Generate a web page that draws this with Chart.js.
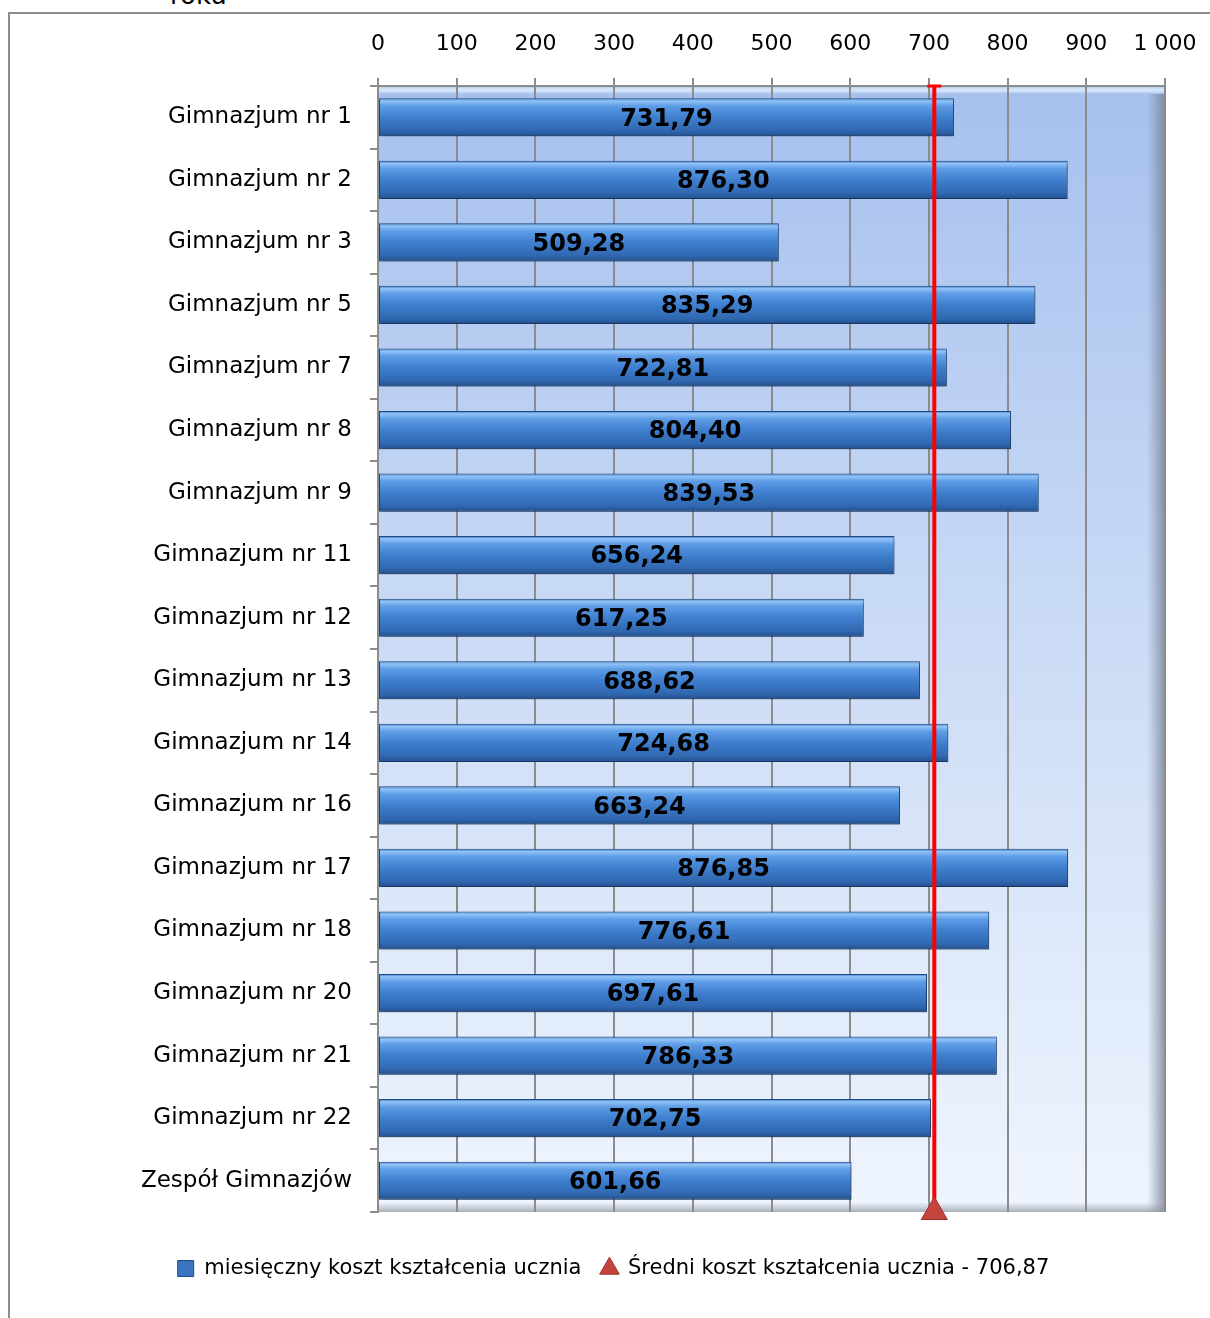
<!DOCTYPE html>
<html><head><meta charset="utf-8">
<script src="https://cdn.jsdelivr.net/npm/chart.js@4.4.1/dist/chart.umd.min.js"></script>
<style>
html,body{margin:0;padding:0;background:#fff;overflow:hidden;width:1210px;height:1318px;}
#frame{position:absolute;left:8px;top:12px;width:1400px;height:1500px;border:2px solid #8c8c8c;box-sizing:border-box;}
#title{position:absolute;left:170px;top:-20px;font:26px "DejaVu Sans";color:#000;line-height:30px;}
#wrap{position:absolute;left:0;top:0;width:1210px;height:1318px;}
</style></head><body>
<div id="frame"></div><div id="title">roku</div>
<div id="wrap"><canvas id="c"></canvas></div>
<script>
const categories = ['Gimnazjum nr 1','Gimnazjum nr 2','Gimnazjum nr 3','Gimnazjum nr 5','Gimnazjum nr 7','Gimnazjum nr 8','Gimnazjum nr 9','Gimnazjum nr 11','Gimnazjum nr 12','Gimnazjum nr 13','Gimnazjum nr 14','Gimnazjum nr 16','Gimnazjum nr 17','Gimnazjum nr 18','Gimnazjum nr 20','Gimnazjum nr 21','Gimnazjum nr 22','Zespół Gimnazjów'];
const costs = [731.79,876.30,509.28,835.29,722.81,804.40,839.53,656.24,617.25,688.62,724.68,663.24,876.85,776.61,697.61,786.33,702.75,601.66];
const averageCost = 706.87;
const xTickValues = [0,100,200,300,400,500,600,700,800,900,1000];
const xTickLabels = ['0','100','200','300','400','500','600','700','800','900','1 000'];
const seriesNames = ['miesięczny koszt kształcenia ucznia','Średni koszt kształcenia ucznia - 706,87'];

const FONT = '"DejaVu Sans", sans-serif';
const fmt = v => v.toFixed(2).replace('.', ',');

const bgPlugin = {
  id: 'bg',
  beforeDraw(chart) {
    const {ctx, chartArea: a} = chart;
    ctx.save();
    const g = ctx.createLinearGradient(0, a.top, 0, a.bottom);
    g.addColorStop(0, '#a6c0ee');
    g.addColorStop(0.5, '#ccdcf6');
    g.addColorStop(1, '#eff5fe');
    ctx.fillStyle = g;
    ctx.fillRect(a.left, a.top, a.right - a.left, a.bottom - a.top);
    const gt = ctx.createLinearGradient(0, a.top, 0, a.top + 8);
    gt.addColorStop(0, 'rgba(255,255,255,0.0)');
    gt.addColorStop(0.5, 'rgba(230,245,255,0.8)');
    gt.addColorStop(1, 'rgba(255,255,255,0)');
    ctx.fillStyle = gt;
    ctx.fillRect(a.left, a.top, a.right - a.left, 8);
    const gr = ctx.createLinearGradient(a.right - 18, 0, a.right, 0);
    gr.addColorStop(0, 'rgba(120,130,150,0)');
    gr.addColorStop(1, 'rgba(110,120,140,0.75)');
    ctx.fillStyle = gr;
    ctx.fillRect(a.right - 18, a.top + 8, 18, a.bottom - a.top - 8);
    const gb = ctx.createLinearGradient(0, a.bottom - 10, 0, a.bottom);
    gb.addColorStop(0, 'rgba(150,155,165,0)');
    gb.addColorStop(1, 'rgba(140,145,155,0.7)');
    ctx.fillStyle = gb;
    ctx.fillRect(a.left, a.bottom - 10, a.right - a.left, 10);
    ctx.restore();
  }
};

const labelPlugin = {
  id: 'barLabels',
  beforeDatasetDraw(chart, args) {
    if (args.index !== 0) return;
    const ctx = chart.ctx;
    ctx.save();
    ctx.shadowColor = 'rgba(0,0,0,0.35)';
    ctx.shadowOffsetY = 3;
    ctx.shadowOffsetX = 1;
    ctx.shadowBlur = 4;
  },
  afterDatasetDraw(chart, args) {
    if (args.index !== 0) return;
    const ctx = chart.ctx;
    ctx.restore();
    ctx.save();
    ctx.font = 'bold 24px ' + FONT;
    ctx.fillStyle = '#000';
    ctx.textAlign = 'center';
    ctx.textBaseline = 'middle';
    args.meta.data.forEach((bar, i) => {
      ctx.fillText(fmt(costs[i]), (bar.x + bar.base) / 2, bar.y + 2);
    });
    ctx.restore();
  }
};

function barFill(c) {
  const chart = c.chart;
  if (!chart.chartArea || c.type !== 'data') return '#3a74c0';
  const y = chart.scales.y.getPixelForValue(c.dataIndex);
  const h = 19;
  const g = chart.ctx.createLinearGradient(0, y - h, 0, y + h);
  g.addColorStop(0, '#3a72bd');
  g.addColorStop(0.07, '#92c4f7');
  g.addColorStop(0.2, '#5f9de6');
  g.addColorStop(0.5, '#3f7fcf');
  g.addColorStop(0.85, '#3068b0');
  g.addColorStop(1, '#22508d');
  return g;
}

new Chart(document.getElementById('c'), {
  data: {
    labels: categories,
    datasets: [
      {
        type: 'bar',
        label: seriesNames[0],
        data: costs,
        backgroundColor: barFill,
        borderColor: '#1f4b86',
        borderWidth: 1,
        borderSkipped: false,
        barPercentage: 0.61,
        categoryPercentage: 1,
        grouped: false,
        order: 1
      },
      {
        type: 'line',
        label: seriesNames[1],
        data: [{x: averageCost, y: 0}, {x: averageCost, y: 1}],
        yAxisID: 'y2',
        xAxisID: 'x',
        borderColor: '#ff0000',
        borderWidth: 4,
        pointStyle: ['triangle', 'line'],
        pointRadius: [15, 7],
        pointBorderColor: ['#9e302b', '#ff0000'],
        pointBackgroundColor: ['#c4443e', '#ff0000'],
        pointBorderWidth: [1, 3],
        clip: false,
        order: 0
      }
    ]
  },
  options: {
    indexAxis: 'y',
    responsive: true,
    maintainAspectRatio: false,
    animation: false,
    layout: {padding: {left: 62, right: 45, top: 0, bottom: 29}},
    scales: {
      x: {
        position: 'top',
        min: 0, max: 1000,
        afterBuildTicks(s) { s.ticks = xTickValues.map(v => ({value: v})); },
        afterFit(s) { s.height = 86; s.paddingRight = 0; s.paddingLeft = 0; },
        ticks: {
          color: '#000', font: {family: FONT, size: 22}, padding: 21,
          callback: (v) => xTickLabels[xTickValues.indexOf(v)]
        },
        grid: {color: '#8c8c8c', lineWidth: 2, tickLength: 8},
        border: {color: '#8c8c8c', width: 2}
      },
      y: {
        type: 'category',
        afterFit(s) { s.width = 316; },
        ticks: {color: '#000', font: {family: FONT, size: 23}, padding: 18},
        grid: {drawOnChartArea: false, color: '#8c8c8c', lineWidth: 2, tickLength: 8, offset: true},
        border: {color: '#8c8c8c', width: 2}
      },
      y2: {type: 'linear', min: 0, max: 1, display: false}
    },
    plugins: {
      tooltip: {enabled: false},
      legend: {
        position: 'bottom',
        title: {display: true, text: ' ', font: {size: 10}, padding: {top: 14, bottom: 0}},
        labels: {
          usePointStyle: true,
          boxWidth: 16, boxHeight: 16,
          padding: 20,
          color: '#000',
          font: {family: FONT, size: 21},
          sort: (a, b) => a.datasetIndex - b.datasetIndex,
          generateLabels(chart) {
            const items = Chart.defaults.plugins.legend.labels.generateLabels(chart);
            items.forEach(it => {
              if (it.datasetIndex === 0) {
                it.fillStyle = '#3a74c0'; it.strokeStyle = '#1f4b86'; it.lineWidth = 1; it.pointStyle = 'rect';
              } else {
                it.fillStyle = '#c4443e'; it.strokeStyle = '#9e302b'; it.lineWidth = 1; it.pointStyle = 'triangle';
              }
            });
            return items;
          }
        }
      }
    }
  },
  plugins: [bgPlugin, labelPlugin]
});
</script>
</body></html>
